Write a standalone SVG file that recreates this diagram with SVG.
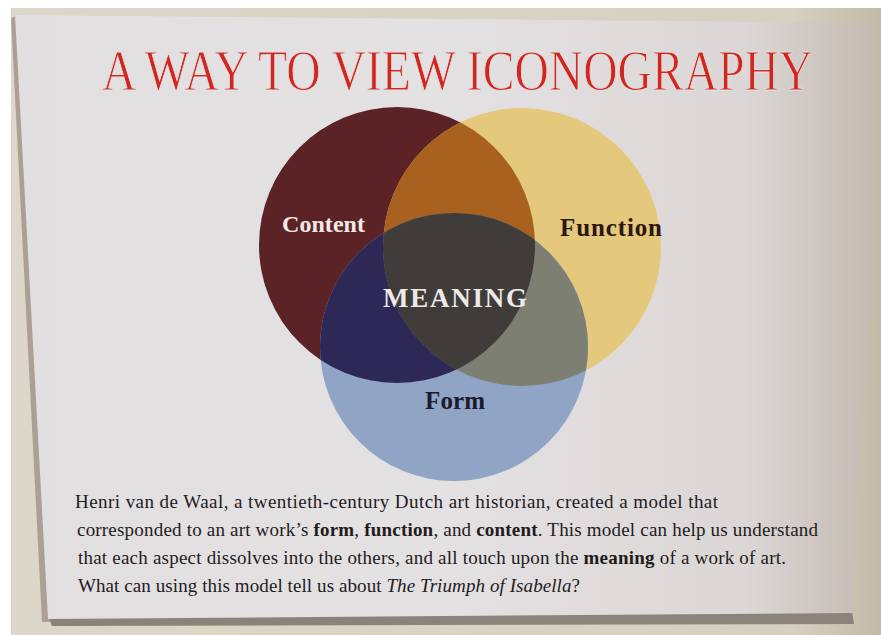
<svg xmlns="http://www.w3.org/2000/svg" width="881" height="635" viewBox="0 0 881 635">
<style>
.lbl{font-family:"Liberation Serif","Times New Roman",serif;font-weight:bold;}
.body{font-family:"Liberation Serif","Times New Roman",serif;font-size:19px;fill:#221b1c;}
.b{font-weight:bold;}
.i{font-style:italic;}
</style>
<defs>
<clipPath id="clipContent"><circle cx="397" cy="245" r="138"/></clipPath>
<clipPath id="clipFunction"><circle cx="522" cy="247" r="139"/></clipPath>
<linearGradient id="cardShade" x1="0" y1="0" x2="1" y2="0">
<stop offset="0" stop-color="#e2dfe1"/>
<stop offset="0.5" stop-color="#e4e1e3"/>
<stop offset="0.85" stop-color="#dcd7d6"/>
<stop offset="1" stop-color="#c4bbb2"/>
</linearGradient>
<linearGradient id="wallShade" x1="0" y1="0" x2="1" y2="0">
<stop offset="0" stop-color="#dcd7c8"/>
<stop offset="0.9" stop-color="#d6d0c0"/>
<stop offset="1" stop-color="#c3baa8"/>
</linearGradient>
</defs>
<rect width="881" height="635" fill="#ffffff"/>
<rect x="11" y="8" width="870" height="627" fill="url(#wallShade)"/>
<g id="card">
<polygon points="11,18 16,16 50,622 42,622" fill="#aaa194"/>
<polygon points="48,616 852,612 854,624 52,626" fill="#8b8279"/>
<polygon points="15,15 872,23 870,300 857,500 852,613 48,619" fill="url(#cardShade)"/>
</g>
<g transform="scale(0.8 1)">
<text id="title" x="127.5" y="90" font-family="'Liberation Serif','Times New Roman',serif" font-size="58" fill="#d2271f" stroke="#e3e0e2" stroke-width="0.9" textLength="889" lengthAdjust="spacingAndGlyphs">A WAY TO VIEW ICONOGRAPHY</text>
</g>
<g id="node-content">
<circle cx="397" cy="245" r="138" fill="#5c2327"/>
</g>
<g id="node-function">
<circle cx="522" cy="247" r="139" fill="#e4c87b"/>
<circle cx="522" cy="247" r="139" fill="#a9611f" clip-path="url(#clipContent)"/>
</g>
<g id="node-form">
<circle cx="454" cy="347" r="134" fill="#90a4c6"/>
<circle cx="454" cy="347" r="134" fill="#2d2856" clip-path="url(#clipContent)"/>
<circle cx="454" cy="347" r="134" fill="#7e7f73" clip-path="url(#clipFunction)"/>
<g clip-path="url(#clipContent)"><circle cx="454" cy="347" r="134" fill="#3f3c3a" clip-path="url(#clipFunction)"/></g>
</g>
<g id="labels">
<text class="lbl" x="282" y="232" font-size="24" fill="#f3e9e6" textLength="83">Content</text>
<text class="lbl" x="560" y="236" font-size="25" fill="#2b1810" textLength="102">Function</text>
<text id="node-meaning" class="lbl" x="383" y="307" font-size="27" fill="#efe9ea" textLength="144">MEANING</text>
<text class="lbl" x="425" y="409" font-size="25" fill="#1b1a2e" textLength="60">Form</text>
</g>
<g id="caption">
<text class="body" x="75" y="508" textLength="643">Henri van de Waal, a twentieth-century Dutch art historian, created a model that</text>
<text class="body" x="77" y="536" textLength="741">corresponded to an art work’s <tspan class="b">form</tspan>, <tspan class="b">function</tspan>, and <tspan class="b">content</tspan>. This model can help us understand</text>
<text class="body" x="78" y="564" textLength="708">that each aspect dissolves into the others, and all touch upon the <tspan class="b">meaning</tspan> of a work of art.</text>
<text class="body" x="78" y="592" textLength="502">What can using this model tell us about <tspan class="i">The Triumph of Isabella</tspan>?</text>
</g>
</svg>
